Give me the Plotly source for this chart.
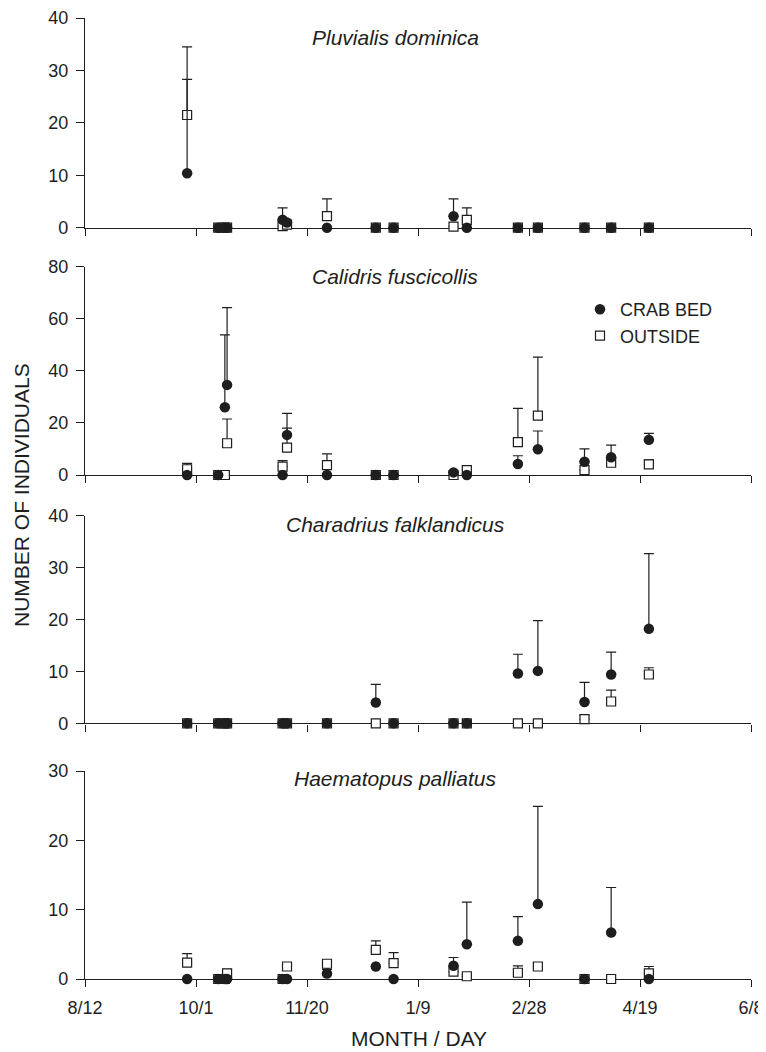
import plotly.graph_objects as go

# ---------------- data ----------------
dates = ["2006-09-27", "2006-10-11", "2006-10-14", "2006-10-15", "2006-11-09",
         "2006-11-11", "2006-11-29", "2006-12-21", "2006-12-29", "2007-01-25",
         "2007-01-31", "2007-02-23", "2007-03-04", "2007-03-25", "2007-04-06",
         "2007-04-23"]

tick_dates = ["2006-08-12", "2006-10-01", "2006-11-20", "2007-01-09",
              "2007-02-28", "2007-04-19", "2007-06-08"]
tick_labels = ["8/12", "10/1", "11/20", "1/9", "2/28", "4/19", "6/8"]

species = ["Pluvialis dominica", "Calidris fuscicollis",
           "Charadrius falklandicus", "Haematopus palliatus"]
y_max = [40, 80, 40, 30]
y_step = [10, 20, 10, 10]

# Pluvialis dominica
pd_crab = [10.4, 0, 0, 0, 1.5, 1.0, 0, 0, 0, 2.2, 0, 0, 0, 0, 0, 0]
pd_crab_err = [17.9, 0, 0, 0, 2.3, 0, 0, 0, 0, 3.3, 0, 0, 0, 0, 0, 0]
pd_out = [21.5, 0, 0, 0, 0.3, 0.6, 2.2, 0, 0, 0.2, 1.5, 0, 0, 0, 0, 0]
pd_out_err = [13.0, 0, 0, 0, 0, 0, 3.3, 0, 0, 0, 2.3, 0, 0, 0, 0, 0]

# Calidris fuscicollis
cf_crab = [0, 0, 26.0, 34.6, 0, 15.4, 0, 0, 0, 1.0, 0, 4.2, 9.9, 5.1, 6.8, 13.5]
cf_crab_err = [0, 0, 27.8, 29.7, 0, 8.3, 0, 0, 0, 0, 0, 3.2, 7.0, 4.9, 4.7, 2.5]
cf_out = [2.2, 0, 0, 12.2, 3.2, 10.5, 3.8, 0, 0, 0, 1.9, 12.6, 22.8, 1.9, 4.7, 4.1]
cf_out_err = [2.3, 0, 0, 9.3, 2.3, 7.5, 4.3, 0, 0, 0, 1.6, 13.0, 22.5, 0, 0, 1.7]

# Charadrius falklandicus
ch_crab = [0, 0, 0, 0, 0, 0, 0, 4.0, 0, 0, 0, 9.6, 10.1, 4.1, 9.4, 18.2]
ch_crab_err = [0, 0, 0, 0, 0, 0, 0, 3.5, 0, 0, 0, 3.7, 9.7, 3.8, 4.3, 14.5]
ch_out = [0, 0, 0, 0, 0, 0, 0, 0, 0, 0, 0, 0, 0, 0.8, 4.2, 9.4]
ch_out_err = [0, 0, 0, 0, 0, 0, 0, 0, 0, 0, 0, 0, 0, 0.7, 2.2, 1.3]

# Haematopus palliatus
hp_crab = [0, 0, 0, 0, 0, 0, 0.8, 1.8, 0, 1.9, 5.0, 5.5, 10.8, 0, 6.7, 0]
hp_crab_err = [0, 0, 0, 0, 0, 0, 0.6, 0, 0, 1.2, 6.1, 3.5, 14.1, 0, 6.5, 0]
hp_out = [2.35, 0, 0, 0.8, 0, 1.8, 2.2, 4.2, 2.3, 1.05, 0.4, 0.9, 1.8, 0, 0, 0.8]
hp_out_err = [1.3, 0, 0, 0.6, 0, 0.5, 0, 1.3, 1.5, 0, 0.2, 1.0, 0.5, 0, 0, 1.0]

crab_series = [pd_crab, cf_crab, ch_crab, hp_crab]
crab_errs = [pd_crab_err, cf_crab_err, ch_crab_err, hp_crab_err]
out_series = [pd_out, cf_out, ch_out, hp_out]
out_errs = [pd_out_err, cf_out_err, ch_out_err, hp_out_err]

# ---------------- layout geometry ----------------
# The page body has an 8px margin, so the figure starts at (8, 8) on the page.
OFF = 8
W, H = 766 - OFF, 1052 - OFF
# plot area in page pixels
P_LEFT, P_RIGHT, P_TOP, P_BOTTOM = 85, 751, 18, 979
ML = P_LEFT - OFF
MR = W - (P_RIGHT - OFF)
MT = P_TOP - OFF
MB = H - (P_BOTTOM - OFF)
plot_h = P_BOTTOM - P_TOP
plot_w = P_RIGHT - P_LEFT

def py(pix):
    return (P_BOTTOM - pix) / plot_h

def px(pix):
    return (pix - P_LEFT) / plot_w

def clamp(v):
    return max(0.0, min(1.0, v))

# panel pixel extents (top, bottom), page coordinates
panels_px = [(18.0, 227.7), (266.7, 475.0), (515.7, 723.3), (771.0, 979.0)]
title_py = [37.5, 276.5, 524.5, 778.0]

INK = "#1e1e1e"
FONT = "Liberation Sans, Arial, sans-serif"

fig = go.Figure()
zero = [0] * len(dates)

for i in range(4):
    xa = "x" if i == 0 else f"x{i+1}"
    ya = "y" if i == 0 else f"y{i+1}"
    fig.add_trace(go.Scatter(
        x=dates, y=out_series[i], mode="markers", xaxis=xa, yaxis=ya,
        name="OUTSIDE", legendrank=2, showlegend=(i == 1),
        marker=dict(symbol="square", size=9, color="white",
                    line=dict(color=INK, width=1.2)),
        error_y=dict(type="data", symmetric=False, array=out_errs[i],
                     arrayminus=zero, color=INK, thickness=1.2, width=5),
        cliponaxis=False,
    ))
    fig.add_trace(go.Scatter(
        x=dates, y=crab_series[i], mode="markers", xaxis=xa, yaxis=ya,
        name="CRAB BED", legendrank=1, showlegend=(i == 1),
        marker=dict(symbol="circle", size=10.5, color=INK,
                    line=dict(width=0)),
        error_y=dict(type="data", symmetric=False, array=crab_errs[i],
                     arrayminus=zero, color=INK, thickness=1.2, width=5),
        cliponaxis=False,
    ))

layout = dict(
    width=W, height=H,
    margin=dict(l=ML, r=MR, t=MT, b=MB, autoexpand=False),
    paper_bgcolor="white", plot_bgcolor="white",
    font=dict(family=FONT, color=INK, size=18),
    showlegend=True,
    legend=dict(x=px(580), y=py(291), xanchor="left", yanchor="top",
                bgcolor="rgba(0,0,0,0)", font=dict(size=18, family=FONT),
                tracegroupgap=0, itemsizing="trace"),
)

annotations = []
for i in range(4):
    top, bot = panels_px[i]
    xk = "xaxis" if i == 0 else f"xaxis{i+1}"
    yk = "yaxis" if i == 0 else f"yaxis{i+1}"
    ya = "y" if i == 0 else f"y{i+1}"
    layout[xk] = dict(
        type="date", domain=[0, 1], anchor=ya,
        range=[tick_dates[0], tick_dates[-1]],
        tickmode="array", tickvals=tick_dates, ticktext=tick_labels,
        showticklabels=(i == 3), ticks="outside", ticklen=7, tickwidth=1.3,
        tickcolor=INK, showline=True, linecolor=INK, linewidth=1.4,
        showgrid=False, zeroline=False, layer="below traces",
        tickfont=dict(size=18, family=FONT), ticklabelstandoff=5,
        ticklabeloverflow="allow",
    )
    if i > 0:
        layout[xk]["matches"] = "x"
    layout[yk] = dict(
        domain=[clamp(py(bot)), clamp(py(top))], anchor="x" if i == 0 else f"x{i+1}",
        range=[0, y_max[i]], tick0=0, dtick=y_step[i],
        ticks="outside", ticklen=8, tickwidth=1.3, tickcolor=INK,
        showline=True, linecolor=INK, linewidth=1.4,
        showgrid=False, zeroline=False, layer="below traces",
        tickfont=dict(size=18, family=FONT), ticklabelstandoff=4,
    )
    annotations.append(dict(
        text=f"<i>{species[i]}</i>", xref="paper", yref="paper",
        x=px(395), y=py(title_py[i]), xanchor="center", yanchor="middle",
        showarrow=False, font=dict(size=21, family=FONT, color=INK),
    ))

annotations.append(dict(
    text="NUMBER OF INDIVIDUALS", xref="paper", yref="paper",
    x=px(21), y=py(495), xanchor="center", yanchor="middle",
    textangle=-90, showarrow=False, font=dict(size=21, family=FONT, color=INK),
))
annotations.append(dict(
    text="MONTH / DAY", xref="paper", yref="paper",
    x=px(419), y=py(1051.5), xanchor="center", yanchor="bottom",
    showarrow=False, font=dict(size=21, family=FONT, color=INK),
))
layout["annotations"] = annotations

fig.update_layout(**layout)
fig.write_html("out.html")
